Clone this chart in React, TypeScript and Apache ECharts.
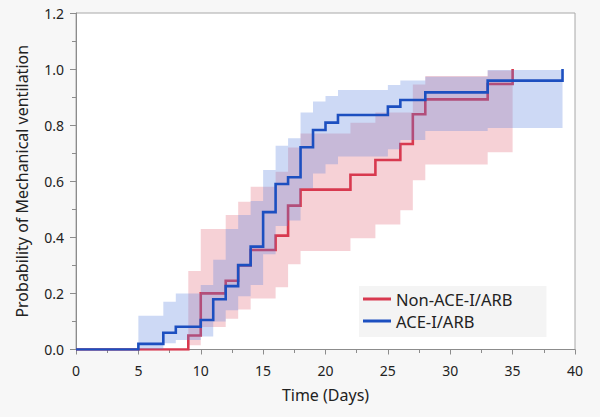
import React, { useEffect, useRef } from "react";
import * as echarts from "echarts";

// Kaplan-Meier step curves (time in days, cumulative probability)
const blueName = "ACE-I/ARB";
const redName = "Non-ACE-I/ARB";

const blueTimes = [0, 5, 7, 8, 10, 11, 12, 13, 14, 15, 16, 17, 18, 19, 20, 21, 25, 26, 28, 33, 39];
const blueProb = [0, 0.02, 0.06, 0.081, 0.105, 0.179, 0.226, 0.301, 0.367, 0.49, 0.59, 0.614, 0.721, 0.783, 0.809, 0.836, 0.866, 0.89, 0.917, 0.959, 1.0];

const redTimes = [0, 9, 10, 12, 13, 14, 16, 17, 18, 22, 24, 26, 27, 28, 33, 35];
const redProb = [0, 0.05, 0.2, 0.245, 0.3, 0.355, 0.406, 0.513, 0.57, 0.623, 0.676, 0.733, 0.839, 0.892, 0.947, 1.0];

// Confidence bands: value holds from time[i] until time[i+1]
const blueBandTimes = [5, 7, 8, 10, 11, 12, 13, 14, 15, 16, 17, 18, 19, 20, 21, 25, 26, 28, 33, 39];
const blueLower = [0.0, 0.022, 0.034, 0.046, 0.1, 0.14, 0.19, 0.23, 0.34, 0.44, 0.46, 0.575, 0.628, 0.661, 0.688, 0.714, 0.747, 0.779, 0.79, 0.79];
const blueUpper = [0.12, 0.17, 0.2, 0.23, 0.32, 0.43, 0.48, 0.53, 0.64, 0.727, 0.753, 0.845, 0.884, 0.904, 0.925, 0.943, 0.959, 0.973, 0.997, 0.997];

const redBandTimes = [9, 10, 12, 13, 14, 16, 17, 18, 22, 24, 26, 27, 28, 33, 35];
const redLower = [0.015, 0.08, 0.11, 0.143, 0.182, 0.222, 0.304, 0.351, 0.397, 0.446, 0.497, 0.604, 0.66, 0.703, 0.703];
const redUpper = [0.28, 0.43, 0.48, 0.527, 0.58, 0.634, 0.72, 0.77, 0.809, 0.845, 0.845, 0.945, 0.975, 0.995, 0.995];

const xTicks = { min: 0, max: 40, interval: 5 };
const yTicks = { min: 0, max: 1.2, interval: 0.2 };

const RED = "#d8394f";
const BLUE = "#1c4fc0";
const RED_BAND = "rgba(216,57,79,0.23)";
const BLUE_BAND = "rgba(88,128,222,0.3)";
const FONT = "Noto Sans";

function bandSeries(name: string, times: number[], lo: number[], hi: number[], fill: string, z: number) {
  return {
    type: "custom",
    name,
    z,
    clip: true,
    silent: true,
    encode: { x: 0, y: [1, 2] },
    data: times.map((t, i) => [t, lo[i], hi[i]]),
    renderItem: (params: any, api: any) => {
      if (params.dataIndexInside !== 0) return null;
      const n = params.dataInsideLength;
      const top: number[][] = [];
      const bottom: number[][] = [];
      for (let i = 0; i < n - 1; i++) {
        const t0 = api.value(0, i);
        const t1 = api.value(0, i + 1);
        const l = api.value(1, i);
        const h = api.value(2, i);
        top.push(api.coord([t0, h]), api.coord([t1, h]));
        bottom.push(api.coord([t0, l]), api.coord([t1, l]));
      }
      return {
        type: "polygon",
        shape: { points: top.concat(bottom.reverse()) },
        style: { fill, stroke: "none" },
      };
    },
  };
}

function lineSeries(name: string, times: number[], probs: number[], color: string, z: number) {
  return {
    type: "line",
    name,
    z,
    color,
    step: "end",
    showSymbol: false,
    symbol: "none",
    clip: true,
    lineStyle: { color, width: 2.6, cap: "butt", join: "miter" },
    data: times.map((t, i) => [t, probs[i]]),
  };
}

export default function App() {
  const ref = useRef<HTMLDivElement>(null);
  useEffect(() => {
    if (!ref.current) return;
    const chart = echarts.init(ref.current, undefined, { renderer: "svg" });
    const axisColor = "#8c8c8c";
    chart.setOption({
      animation: false,
      backgroundColor: "#f7f7f7",
      textStyle: { fontFamily: FONT },
      grid: {
        left: 76,
        right: 25,
        top: 13,
        bottom: 67.5,
        show: true,
        backgroundColor: "#ffffff",
        borderColor: "#a8a8a8",
        borderWidth: 1,
      },
      legend: {
        orient: "vertical",
        left: 359,
        top: 286,
        backgroundColor: "#f4f4f4",
        padding: [3, 34, 6, 4],
        itemGap: 2,
        itemWidth: 28,
        itemHeight: 3,
        icon: "rect",
        selectedMode: false,
        textStyle: { fontFamily: FONT, fontSize: 16.5, lineHeight: 20, color: "#222" },
        data: [redName, blueName],
      },
      xAxis: {
        type: "value",
        min: xTicks.min,
        max: xTicks.max,
        interval: xTicks.interval,
        name: "Time (Days)",
        nameLocation: "middle",
        nameGap: 37,
        nameTextStyle: { fontFamily: FONT, fontSize: 16, color: "#222" },
        axisLine: { show: true, lineStyle: { color: axisColor } },
        axisTick: { show: true, length: 5, lineStyle: { color: axisColor } },
        minorTick: { show: true, splitNumber: 2, length: 3.5, lineStyle: { color: axisColor } },
        splitLine: { show: false },
        axisLabel: { margin: 14, fontFamily: FONT, fontSize: 14, color: "#222" },
      },
      yAxis: {
        type: "value",
        min: yTicks.min,
        max: yTicks.max,
        interval: yTicks.interval,
        name: "Probability of Mechanical ventilation",
        nameLocation: "middle",
        nameGap: 46,
        nameTextStyle: { fontFamily: FONT, fontSize: 16, color: "#222" },
        axisLine: { show: true, lineStyle: { color: axisColor } },
        axisTick: { show: true, length: 6, lineStyle: { color: axisColor } },
        minorTick: { show: true, splitNumber: 2, length: 4, lineStyle: { color: axisColor } },
        splitLine: { show: false },
        axisLabel: {
          margin: 12,
          fontFamily: FONT,
          fontSize: 14,
          color: "#222",
          formatter: (v: number) => v.toFixed(1),
        },
      },
      series: [
        bandSeries("Non-ACE-I/ARB band", redBandTimes, redLower, redUpper, RED_BAND, 2),
        lineSeries(redName, redTimes, redProb, RED, 3),
        bandSeries("ACE-I/ARB band", blueBandTimes, blueLower, blueUpper, BLUE_BAND, 4),
        lineSeries(blueName, blueTimes, blueProb, BLUE, 5),
      ],
    });
    return () => chart.dispose();
  }, []);
  return (
    <div
      ref={ref}
      style={{ position: "absolute", left: 0, top: 0, width: 600, height: 417 }}
    />
  );
}
